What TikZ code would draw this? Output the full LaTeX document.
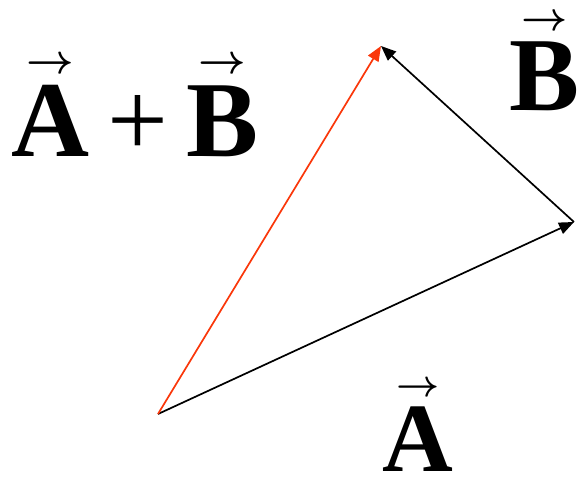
\documentclass[tikz,border=0pt]{standalone}
\usepackage{fontspec}
\setmainfont{Liberation Serif}
\usepackage{graphicx}
\usetikzlibrary{arrows.meta}
\definecolor{sRed}{RGB}{250,55,10}
\newcommand\vecbf[1]{\ooalign{\textbf{#1}\cr\hidewidth\raisebox{0.76em}{\resizebox{0.44em}{!}{\boldmath$\rightarrow$}}\hidewidth\cr}}

\begin{document}
\begin{tikzpicture}[x=1pt,y=-1pt,
  v/.style={-{Triangle[length=15pt,width=12pt]},line width=1.7pt},
  l/.style={inner sep=0pt,anchor=base west}]
  \useasboundingbox (0,0) rectangle (586,490);
  \coordinate (o) at (158,414);
  \coordinate (a) at (574,222);
  \coordinate (b) at (381,46);
  \draw[v] (o)--(a); \draw[v] (a)--(b); \draw[v,sRed] (o)--(b);
  \node[l,font=\fontsize{108}{108}\selectfont] (s) at (11,156) {\vecbf{A}\,+\,\vecbf{B}};
  \node[l,font=\fontsize{105}{105}\selectfont] (lb) at (509,110) {\vecbf{B}};
  \node[l,font=\fontsize{98}{98}\selectfont] (la) at (382,471) {\vecbf{A}};
\end{tikzpicture}
\end{document}
